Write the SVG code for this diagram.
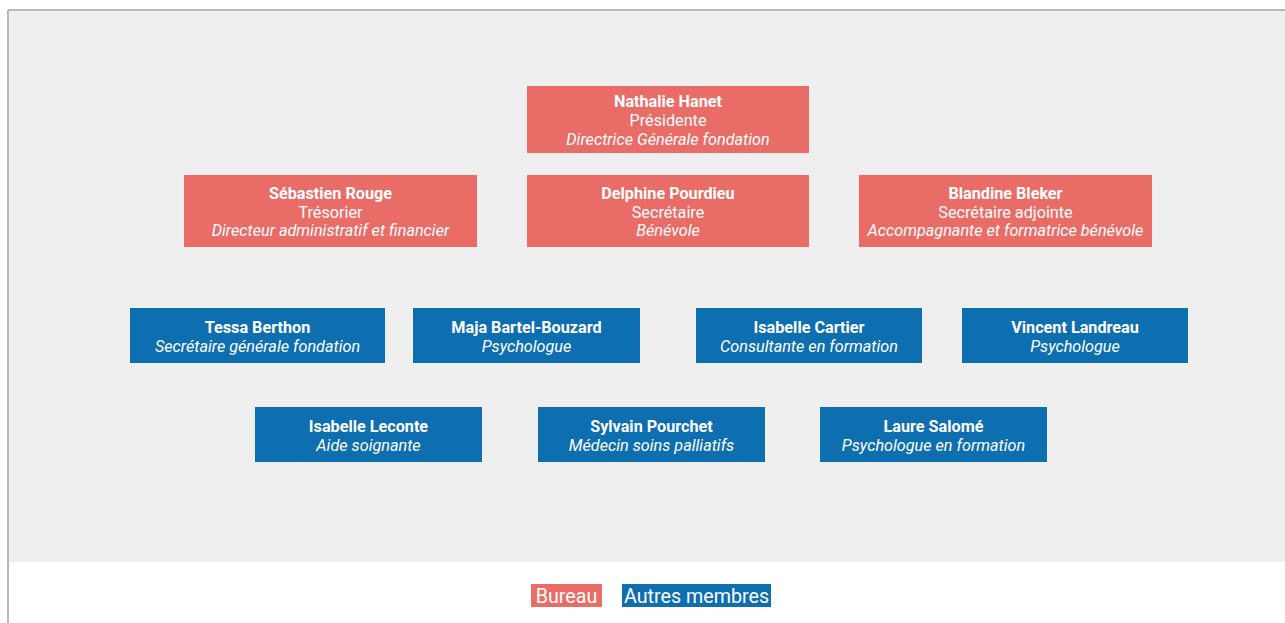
<svg xmlns="http://www.w3.org/2000/svg" width="1285" height="623" viewBox="0 0 1285 623">
<style>
.t{font-family:Roboto,"Liberation Sans",sans-serif;font-size:16.2px;fill:#fff;text-anchor:middle}
.b{font-weight:bold}
.i{font-style:italic}
.red{fill:#e96c66}
.blue{fill:#0d6eb0}
.lg{font-family:Roboto,"Liberation Sans",sans-serif;font-size:19.7px;fill:#fff;text-anchor:middle}
</style>
<rect x="0" y="0" width="1285" height="623" fill="#ffffff"/>
<rect x="9" y="11" width="1276" height="551" fill="#efefef"/>
<line x1="8" y1="10" x2="1285" y2="10" stroke="#b8b8b8" stroke-width="2"/>
<line x1="8" y1="10" x2="8" y2="623" stroke="#b8b8b8" stroke-width="2"/>
<g id="connectors"></g>
<g id="n-nathalie"><rect class="red" x="527" y="86" width="282" height="67"/>
<text class="t b" x="668" y="107">Nathalie Hanet</text><text class="t" x="668" y="126">Présidente</text><text class="t i" x="668" y="145">Directrice Générale fondation</text></g>
<g id="n-sebastien"><rect class="red" x="184" y="175" width="293" height="72"/>
<text class="t b" x="330.5" y="199">Sébastien Rouge</text><text class="t" x="330.5" y="218">Trésorier</text><text class="t i" x="330.5" y="236">Directeur administratif et financier</text></g>
<g id="n-delphine"><rect class="red" x="527" y="175" width="282" height="72"/>
<text class="t b" x="668" y="199">Delphine Pourdieu</text><text class="t" x="668" y="218">Secrétaire</text><text class="t i" x="668" y="236">Bénévole</text></g>
<g id="n-blandine"><rect class="red" x="859" y="175" width="293" height="72"/>
<text class="t b" x="1005.5" y="199">Blandine Bleker</text><text class="t" x="1005.5" y="218">Secrétaire adjointe</text><text class="t i" x="1005.5" y="236">Accompagnante et formatrice bénévole</text></g>
<g id="n-tessa"><rect class="blue" x="130" y="308" width="255" height="55"/>
<text class="t b" x="257.5" y="333">Tessa Berthon</text><text class="t i" x="257.5" y="352">Secrétaire générale fondation</text></g>
<g id="n-maja"><rect class="blue" x="413" y="308" width="227" height="55"/>
<text class="t b" x="526.5" y="333">Maja Bartel-Bouzard</text><text class="t i" x="526.5" y="352">Psychologue</text></g>
<g id="n-isabellec"><rect class="blue" x="696" y="308" width="226" height="55"/>
<text class="t b" x="809" y="333">Isabelle Cartier</text><text class="t i" x="809" y="352">Consultante en formation</text></g>
<g id="n-vincent"><rect class="blue" x="962" y="308" width="226" height="55"/>
<text class="t b" x="1075" y="333">Vincent Landreau</text><text class="t i" x="1075" y="352">Psychologue</text></g>
<g id="n-isabellel"><rect class="blue" x="255" y="407" width="227" height="55"/>
<text class="t b" x="368.5" y="432">Isabelle Leconte</text><text class="t i" x="368.5" y="451">Aide soignante</text></g>
<g id="n-sylvain"><rect class="blue" x="538" y="407" width="227" height="55"/>
<text class="t b" x="651.5" y="432">Sylvain Pourchet</text><text class="t i" x="651.5" y="451">Médecin soins palliatifs</text></g>
<g id="n-laure"><rect class="blue" x="820" y="407" width="227" height="55"/>
<text class="t b" x="933.5" y="432">Laure Salomé</text><text class="t i" x="933.5" y="451">Psychologue en formation</text></g>
<g id="legend">
<rect class="red" x="531" y="584" width="71" height="23"/><text class="lg" x="566.5" y="603">Bureau</text>
<rect class="blue" x="622" y="584" width="149" height="23"/><text class="lg" x="696.5" y="603">Autres membres</text>
</g>
</svg>
